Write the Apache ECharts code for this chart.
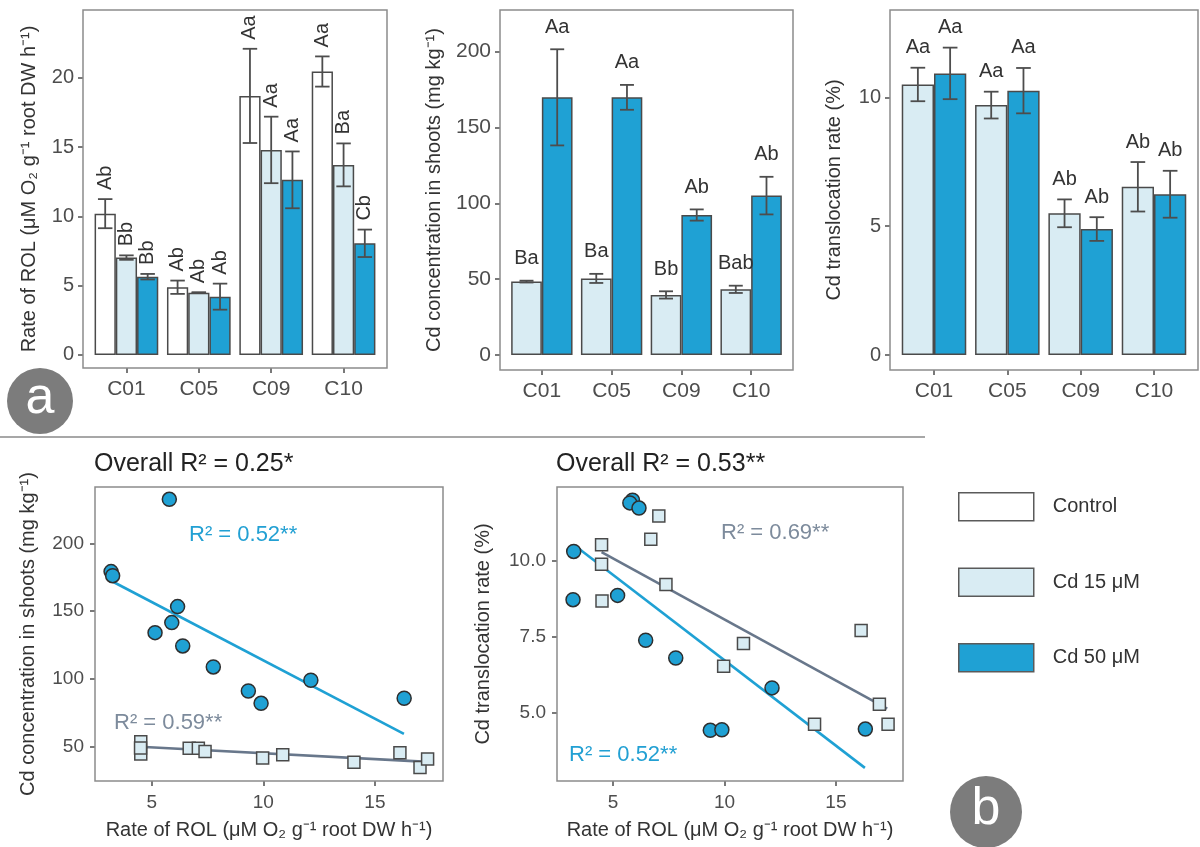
<!DOCTYPE html>
<html>
<head>
<meta charset="utf-8">
<script src="https://cdn.jsdelivr.net/npm/echarts@6/dist/echarts.min.js"></script>
<style>
  html, body { margin: 0; padding: 0; background: #fff; }
  #main { width: 1200px; height: 847px; }
</style>
</head>
<body>
<div id="main"></div>
<script>
// ---- data ----
var cultivars = ['C01', 'C05', 'C09', 'C10'];

// a1: rate of ROL
var rolControl = [10.2, 4.89, 18.7, 20.46];
var rolControlSe = [1.05, 0.48, 3.4, 1.09];
var rolControlLet = ['Ab', 'Ab', 'Aa', 'Aa'];
var rol15 = [7.03, 4.5, 14.8, 13.72];
var rol15Se = [0.16, 0.03, 2.4, 1.55];
var rol15Let = ['Bb', 'Ab', 'Aa', 'Ba'];
var rol50 = [5.65, 4.21, 12.64, 8.06];
var rol50Se = [0.2, 0.94, 2.05, 0.99];
var rol50Let = ['Bb', 'Ab', 'Aa', 'Cb'];

// a2: Cd concentration in shoots
var conc15 = [48.4, 50.5, 39.6, 43.3];
var conc15Se = [0.6, 3.0, 2.4, 2.4];
var conc15Let = ['Ba', 'Ba', 'Bb', 'Bab'];
var conc50 = [169.9, 169.9, 92.3, 105.1];
var conc50Se = [31.7, 8.2, 3.7, 12.4];
var conc50Let = ['Aa', 'Aa', 'Ab', 'Ab'];

// a3: Cd translocation rate
var trans15 = [10.5, 9.7, 5.5, 6.53];
var trans15Se = [0.65, 0.52, 0.54, 0.96];
var trans15Let = ['Aa', 'Aa', 'Ab', 'Ab'];
var trans50 = [10.93, 10.26, 4.89, 6.24];
var trans50Se = [1.0, 0.88, 0.46, 0.91];
var trans50Let = ['Aa', 'Aa', 'Ab', 'Ab'];

// b1: ROL vs Cd concentration
var b1RolCd50 = [5.79, 3.18, 3.25, 6.16, 5.9, 5.15, 6.39, 7.76, 9.33, 9.9, 12.13, 16.31];
var b1ConcCd50 = [232.4, 179.1, 176.1, 153.3, 141.5, 134.1, 124.3, 108.8, 91.1, 82.0, 99.0, 85.7];
var b1RolCd15 = [4.51, 4.51, 4.5, 6.68, 7.09, 7.39, 9.97, 10.87, 14.06, 16.12, 17.02, 17.36];
var b1ConcCd15 = [53.7, 44.7, 49.0, 48.9, 48.9, 46.4, 41.6, 44.0, 38.5, 45.6, 34.6, 41.0];
var b1FitCd50X = [3.2, 16.3], b1FitCd50Y = [172.2, 59.4];
var b1FitCd15X = [4.48, 17.36], b1FitCd15Y = [50.0, 38.8];

// b2: ROL vs translocation rate
var b2RolCd50 = [5.87, 5.75, 6.16, 3.23, 3.2, 5.2, 6.46, 7.81, 9.36, 9.88, 12.13, 16.32];
var b2TransCd50 = [11.97, 11.88, 11.71, 10.29, 8.71, 8.85, 7.38, 6.80, 4.43, 4.45, 5.82, 4.47];
var b2RolCd15 = [4.48, 4.48, 4.5, 6.69, 7.05, 7.37, 9.96, 10.85, 14.04, 16.13, 16.95, 17.34];
var b2TransCd15 = [10.51, 9.87, 8.67, 10.69, 11.45, 9.21, 6.53, 7.27, 4.63, 7.70, 5.28, 4.63];
var b2FitCd50X = [3.23, 16.3], b2FitCd50Y = [10.51, 3.2];
var b2FitCd15X = [4.48, 17.3], b2FitCd15Y = [10.27, 5.14];

// ---- styling ----
var FONT = 'Liberation Sans, Arial, Helvetica, sans-serif';
var INK = '#4d4d4d';
var C_CTRL = '#ffffff', C_15 = '#d9ecf3', C_50 = '#1fa1d4', EDGE = '#4a4a4a';
var BLUE_TXT = '#22a0d3', GREY_TXT = '#7d8b9c', GREY_LINE = '#68778b';

// panel boxes in pixels
var boxes = [
  { l: 83, r: 387, t: 10, b: 368 },
  { l: 500, r: 793, t: 10, b: 370 },
  { l: 890, r: 1198, t: 10, b: 370 },
  { l: 95, r: 443, t: 487, b: 781 },
  { l: 557, r: 903, t: 487, b: 781 }
];

function pair(xs, ys) { return xs.map(function (x, i) { return [x, ys[i]]; }); }

function errorBars(ax, means, ses, letters, k, n, rotated, gap) {
  return {
    type: 'custom', xAxisIndex: ax, yAxisIndex: ax, z: 4, silent: true,
    data: means.map(function (m, i) { return [i, m - ses[i], m + ses[i]]; }),
    renderItem: function (params, api) {
      var i = api.value(0);
      var band = api.size([1, 0])[0];
      var gw = band * 0.88, bw = gw / n;
      var hi = api.coord([i, api.value(2)]);
      var lo = api.coord([i, api.value(1)]);
      var cx = hi[0] - gw / 2 + bw * (k + 0.5);
      var cap = band * 0.1;
      var els = [
        { type: 'line', shape: { x1: cx, y1: lo[1], x2: cx, y2: hi[1] }, style: { stroke: INK, lineWidth: 1.8 } },
        { type: 'line', shape: { x1: cx - cap, y1: hi[1], x2: cx + cap, y2: hi[1] }, style: { stroke: INK, lineWidth: 1.8 } },
        { type: 'line', shape: { x1: cx - cap, y1: lo[1], x2: cx + cap, y2: lo[1] }, style: { stroke: INK, lineWidth: 1.8 } }
      ];
      var txt = {
        type: 'text', x: cx, y: hi[1] - gap,
        style: {
          text: letters[params.dataIndex], fill: '#333', fontSize: 20, fontFamily: FONT,
          align: rotated ? 'left' : 'center', verticalAlign: rotated ? 'middle' : 'bottom'
        }
      };
      if (rotated) txt.rotation = Math.PI / 2;
      els.push(txt);
      return { type: 'group', children: els };
    }
  };
}

function bar(ax, name, data, color) {
  return {
    type: 'bar', name: name, xAxisIndex: ax, yAxisIndex: ax, data: data,
    barGap: '0%', barCategoryGap: '12%', z: 2,
    itemStyle: { color: color, borderColor: EDGE, borderWidth: 1.5 }
  };
}

var grids = [], xAxes = [], yAxes = [];
var barPanels = [
  { min: -0.94, max: 24.9, ticks: [0, 5, 10, 15, 20], name: 'Rate of ROL (μM O₂ g⁻¹ root DW h⁻¹)', gap: 44, tick: 20 },
  { min: -9.9, max: 227.5, ticks: [0, 50, 100, 150, 200], name: 'Cd concentration in shoots (mg kg⁻¹)', gap: 56, tick: 21 },
  { min: -0.58, max: 13.39, ticks: [0, 5, 10], name: 'Cd translocation rate (%)', gap: 46, tick: 20 }
];
barPanels.forEach(function (p, i) {
  var bx = boxes[i];
  var pad = (bx.r - bx.l) / 4.2 * 0.1;
  grids.push({ left: bx.l + pad, width: bx.r - bx.l - 2 * pad, top: bx.t, height: bx.b - bx.t });
  xAxes.push({
    gridIndex: i, type: 'category', data: cultivars,
    axisLine: { show: false, onZero: false },
    axisTick: { show: true, alignWithLabel: true, length: 5, lineStyle: { color: INK, width: 1.5 } },
    axisLabel: { fontSize: 21, color: INK, fontFamily: FONT, margin: 11 },
    splitLine: { show: false }
  });
  yAxes.push({
    gridIndex: i, type: 'value', min: p.min, max: p.max, offset: pad,
    axisLine: { show: false, onZero: false },
    axisTick: { show: true, length: 5, customValues: p.ticks, lineStyle: { color: INK, width: 1.5 } },
    axisLabel: { customValues: p.ticks, fontSize: p.tick, color: INK, fontFamily: FONT, margin: 9 },
    splitLine: { show: false },
    name: p.name, nameLocation: 'middle', nameGap: p.gap,
    nameTextStyle: { fontSize: 20, color: '#333', fontFamily: FONT }
  });
});

var scatterPanels = [
  { xmin: 2.46, xmax: 18.05, ymin: 24.7, ymax: 241.5, yt: [50, 100, 150, 200], name: 'Cd concentration in shoots (mg kg⁻¹)', gap: 57 },
  { xmin: 2.48, xmax: 18.01, ymin: 2.77, ymax: 12.4, yt: [5.0, 7.5, 10.0], name: 'Cd translocation rate (%)', gap: 64 }
];
scatterPanels.forEach(function (p, j) {
  var i = j + 3, bx = boxes[i];
  grids.push({ left: bx.l, width: bx.r - bx.l, top: bx.t, height: bx.b - bx.t });
  xAxes.push({
    gridIndex: i, type: 'value', min: p.xmin, max: p.xmax,
    axisLine: { show: false, onZero: false },
    axisTick: { show: true, length: 5, customValues: [5, 10, 15], lineStyle: { color: INK, width: 1.5 } },
    axisLabel: { customValues: [5, 10, 15], fontSize: 19, color: INK, fontFamily: FONT, margin: 12 },
    splitLine: { show: false },
    name: 'Rate of ROL (μM O₂ g⁻¹ root DW h⁻¹)', nameLocation: 'middle', nameGap: 39,
    nameTextStyle: { fontSize: 20, color: '#333', fontFamily: FONT }
  });
  yAxes.push({
    gridIndex: i, type: 'value', min: p.ymin, max: p.ymax,
    axisLine: { show: false, onZero: false },
    axisTick: { show: true, length: 5, customValues: p.yt, lineStyle: { color: INK, width: 1.5 } },
    axisLabel: {
      customValues: p.yt, fontSize: 19, color: INK, fontFamily: FONT, margin: 11,
      formatter: function (v) { return j === 1 ? v.toFixed(1) : String(v); }
    },
    splitLine: { show: false },
    name: p.name, nameLocation: 'middle', nameGap: p.gap,
    nameTextStyle: { fontSize: 20, color: '#333', fontFamily: FONT }
  });
});

var series = [
  bar(0, 'Control', rolControl, C_CTRL),
  bar(0, 'Cd 15 μM', rol15, C_15),
  bar(0, 'Cd 50 μM', rol50, C_50),
  errorBars(0, rolControl, rolControlSe, rolControlLet, 0, 3, true, 9),
  errorBars(0, rol15, rol15Se, rol15Let, 1, 3, true, 9),
  errorBars(0, rol50, rol50Se, rol50Let, 2, 3, true, 9),

  bar(1, 'Cd 15 μM', conc15, C_15),
  bar(1, 'Cd 50 μM', conc50, C_50),
  errorBars(1, conc15, conc15Se, conc15Let, 0, 2, false, 12),
  errorBars(1, conc50, conc50Se, conc50Let, 1, 2, false, 12),

  bar(2, 'Cd 15 μM', trans15, C_15),
  bar(2, 'Cd 50 μM', trans50, C_50),
  errorBars(2, trans15, trans15Se, trans15Let, 0, 2, false, 10),
  errorBars(2, trans50, trans50Se, trans50Let, 1, 2, false, 10)
];

function fitLine(ax, xs, ys, color) {
  return {
    type: 'line', xAxisIndex: ax, yAxisIndex: ax, data: pair(xs, ys), showSymbol: false,
    silent: true, z: 2, lineStyle: { color: color, width: 2.6 }
  };
}
function points(ax, name, xs, ys, shape) {
  return {
    type: 'scatter', name: name, xAxisIndex: ax, yAxisIndex: ax, data: pair(xs, ys), z: 3,
    symbol: shape === 'circle' ? 'circle' : 'rect', symbolSize: shape === 'circle' ? 14 : 12,
    itemStyle: shape === 'circle'
      ? { color: C_50, borderColor: '#2e2e2e', borderWidth: 1.5, opacity: 1 }
      : { color: C_15, borderColor: '#4a4a4a', borderWidth: 1.5, opacity: 1 }
  };
}
series.push(
  fitLine(3, b1FitCd15X, b1FitCd15Y, GREY_LINE),
  fitLine(3, b1FitCd50X, b1FitCd50Y, C_50),
  points(3, 'b1 Cd15', b1RolCd15, b1ConcCd15, 'square'),
  points(3, 'b1 Cd50', b1RolCd50, b1ConcCd50, 'circle'),
  fitLine(4, b2FitCd15X, b2FitCd15Y, GREY_LINE),
  fitLine(4, b2FitCd50X, b2FitCd50Y, C_50),
  points(4, 'b2 Cd15', b2RolCd15, b2TransCd15, 'square'),
  points(4, 'b2 Cd50', b2RolCd50, b2TransCd50, 'circle')
);

var graphics = boxes.map(function (bx) {
  return {
    type: 'rect', z: 10, silent: true,
    shape: { x: bx.l, y: bx.t, width: bx.r - bx.l, height: bx.b - bx.t },
    style: { fill: 'transparent', stroke: '#8c8c8c', lineWidth: 1.5 }
  };
});
graphics.push(
  { type: 'line', shape: { x1: 0, y1: 437, x2: 925, y2: 437 }, style: { stroke: '#8a8a8a', lineWidth: 1.5 } },
  { type: 'circle', shape: { cx: 40, cy: 401, r: 33 }, style: { fill: '#7c7c7c' } },
  { type: 'text', x: 40, y: 399, style: { text: 'a', fill: '#fff', fontSize: 52, fontFamily: FONT, align: 'center', verticalAlign: 'middle' } },
  { type: 'circle', shape: { cx: 986, cy: 812, r: 36 }, style: { fill: '#7c7c7c' } },
  { type: 'text', x: 986, y: 810, style: { text: 'b', fill: '#fff', fontSize: 52, fontFamily: FONT, align: 'center', verticalAlign: 'middle' } },
  { type: 'text', x: 189, y: 535, style: { text: 'R² = 0.52**', fill: BLUE_TXT, fontSize: 22, fontFamily: FONT, verticalAlign: 'middle' } },
  { type: 'text', x: 114, y: 723, style: { text: 'R² = 0.59**', fill: GREY_TXT, fontSize: 22, fontFamily: FONT, verticalAlign: 'middle' } },
  { type: 'text', x: 721, y: 533, style: { text: 'R² = 0.69**', fill: GREY_TXT, fontSize: 22, fontFamily: FONT, verticalAlign: 'middle' } },
  { type: 'text', x: 569, y: 755, style: { text: 'R² = 0.52**', fill: BLUE_TXT, fontSize: 22, fontFamily: FONT, verticalAlign: 'middle' } }
);

var chart = echarts.init(document.getElementById('main'));
chart.setOption({
  animation: false,
  backgroundColor: '#ffffff',
  textStyle: { fontFamily: FONT },
  title: [
    { text: 'Overall R² = 0.25*', left: 94, top: 452, padding: 0, textStyle: { fontSize: 25, fontWeight: 'normal', color: '#222', fontFamily: FONT } },
    { text: 'Overall R² = 0.53**', left: 556, top: 452, padding: 0, textStyle: { fontSize: 25, fontWeight: 'normal', color: '#222', fontFamily: FONT } }
  ],
  legend: {
    orient: 'vertical', left: 953, top: 487, itemWidth: 75, itemHeight: 28, itemGap: 46,
    icon: 'rect', selectedMode: false,
    textStyle: { fontSize: 20, color: '#333', fontFamily: FONT, padding: [0, 0, 0, 14] },
    data: [
      { name: 'Control', itemStyle: { color: C_CTRL, borderColor: '#5a5a5a', borderWidth: 1.5 } },
      { name: 'Cd 15 μM', itemStyle: { color: C_15, borderColor: '#5a5a5a', borderWidth: 1.5 } },
      { name: 'Cd 50 μM', itemStyle: { color: C_50, borderColor: '#5a5a5a', borderWidth: 1.5 } }
    ]
  },
  grid: grids,
  xAxis: xAxes,
  yAxis: yAxes,
  series: series,
  graphic: graphics
});
</script>
</body>
</html>
